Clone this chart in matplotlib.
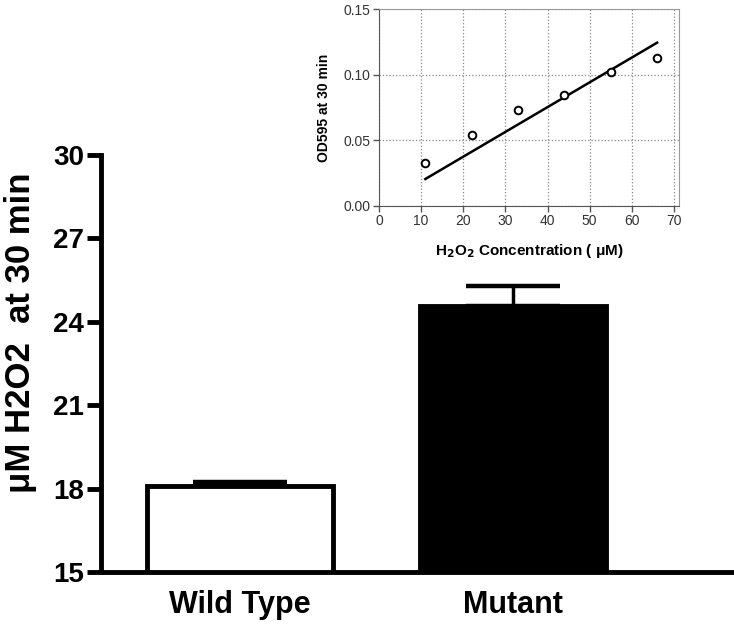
import matplotlib
matplotlib.use("Agg")
import matplotlib.pyplot as plt

# main bar chart data
groups = ["Wild Type", "Mutant"]
h2o2_means = [18.1, 24.55]
h2o2_errs = [0.15, 0.75]
bar_faces = ["white", "black"]
main_yticks = [15, 18, 21, 24, 27, 30]

# inset: standard curve
std_conc = [11, 22, 33, 44, 55, 66]
std_od = [0.0323, 0.054, 0.0733, 0.0845, 0.1024, 0.1126]
fit_x = [11, 66]
fit_y = [0.0204, 0.1245]

plt.rcParams["font.family"] = ["Liberation Sans", "DejaVu Sans"]

fig = plt.figure(figsize=(7.34, 6.26), dpi=100)

# ---------------------------------------------------------------------------
# Main axes
# ---------------------------------------------------------------------------
ax = fig.add_axes([0.1376, 0.0863, 0.8624, 0.6661])
x = range(len(groups))
ax.bar(x, h2o2_means, width=0.68, bottom=0, color=bar_faces,
       edgecolor="black", linewidth=3.5, zorder=2)
ax.errorbar(x, h2o2_means, yerr=[[0, 0], h2o2_errs], fmt="none",
            ecolor="black", elinewidth=2.5, capsize=34, capthick=3.2, zorder=1)
ax.set_ylim(15, 30)
ax.set_xlim(-0.51, 1.81)
ax.set_yticks(main_yticks)
ax.set_xticks(list(x))
ax.set_xticklabels(groups, fontsize=22, fontweight="bold")
ax.tick_params(axis="x", length=0, pad=13)
ax.tick_params(axis="y", length=10, width=3.5, labelsize=20, pad=2)
for lbl in ax.get_yticklabels():
    lbl.set_fontweight("bold")
ax.set_ylabel("\u03bcM H2O2  at 30 min", fontsize=25, fontweight="bold")
ax.yaxis.set_label_coords(-0.101, 0.573)
for side in ["top", "right"]:
    ax.spines[side].set_visible(False)
for side in ["left", "bottom"]:
    ax.spines[side].set_linewidth(3.5)

# ---------------------------------------------------------------------------
# Inset axes
# ---------------------------------------------------------------------------
ins = fig.add_axes([379 / 734, 1 - 205.7 / 626, 300 / 734, 196.4 / 626])
ins.plot(std_conc, std_od, "o", mfc="white", mec="black", ms=5.5, mew=1.4,
         zorder=3)
ins.plot(fit_x, fit_y, "-", color="black", lw=1.8, zorder=2)
ins.set_xlim(0, 71.2)
ins.set_ylim(0, 0.15)
ins.set_xticks(range(0, 71, 10))
ins.set_yticks([0.0, 0.05, 0.10, 0.15])
ins.set_yticklabels(["0.00", "0.05", "0.10", "0.15"])
ins.grid(True, color="#888888", linestyle=":", linewidth=0.9)
ins.tick_params(labelsize=10, labelcolor="#333333", length=4, width=1,
                color="#555555", pad=2)
ins.set_xlabel("H$_\\mathbf{2}$O$_\\mathbf{2}$ Concentration ( \u03bcM)",
               fontsize=11, fontweight="bold", labelpad=10)
ins.set_ylabel("OD595 at 30 min", fontsize=10, fontweight="bold", labelpad=9)
for side in ["left", "bottom"]:
    ins.spines[side].set_color("#555555")
for side in ["top", "right"]:
    ins.spines[side].set_color("#999999")

fig.savefig("out.png", dpi=100)
